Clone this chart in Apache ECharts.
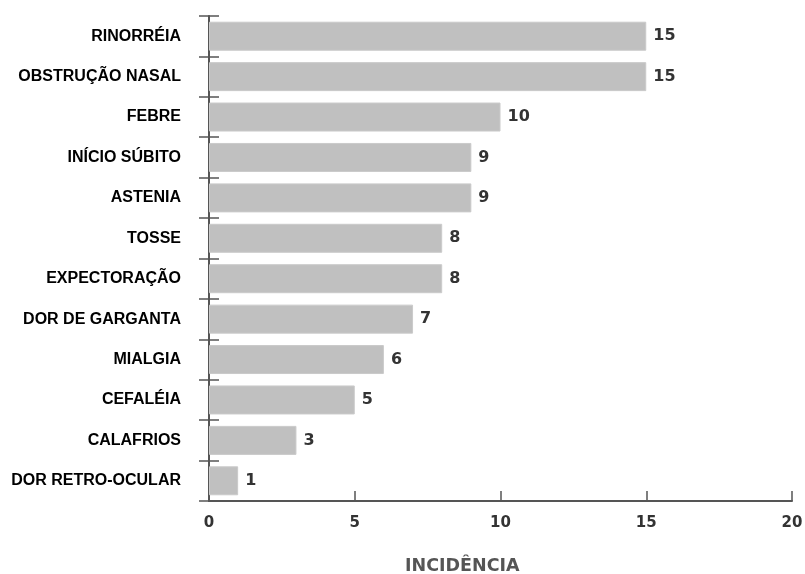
<!DOCTYPE html>
<html>
<head>
<meta charset="utf-8">
<script src="https://cdn.jsdelivr.net/npm/echarts@6/dist/echarts.min.js"></script>
<style>
  html, body { margin: 0; padding: 0; background: #fff; }
  #chart { width: 805px; height: 574px; }
</style>
</head>
<body>
<div id="chart"></div>
<script>
// Symptoms, listed bottom-to-top for the category axis
const symptoms = [
  'DOR RETRO-OCULAR', 'CALAFRIOS', 'CEFALÉIA', 'MIALGIA', 'DOR DE GARGANTA',
  'EXPECTORAÇÃO', 'TOSSE', 'ASTENIA', 'INÍCIO SÚBITO', 'FEBRE',
  'OBSTRUÇÃO NASAL', 'RINORRÉIA'
];
const incidence = [1, 3, 5, 6, 7, 8, 8, 9, 9, 10, 15, 15];
const xTicks = { min: 0, max: 20, interval: 5 };
const xAxisTitle = 'INCIDÊNCIA';

const axisColor = '#555555';
const labelFont = 'Liberation Sans, Arial, sans-serif';
const numFont = 'DejaVu Sans, Verdana, sans-serif';

const chart = echarts.init(document.getElementById('chart'), null, { renderer: 'canvas' });

chart.setOption({
  animation: false,
  backgroundColor: '#ffffff',
  title: {
    text: xAxisTitle,
    left: 405,
    top: 557,
    padding: 0,
    textStyle: { color: axisColor, fontFamily: numFont, fontWeight: 'bold', fontSize: 17.5 }
  },
  grid: { left: 209, right: 13, top: 16, height: 485, containLabel: false, outerBoundsMode: 'none' },
  xAxis: {
    type: 'value',
    min: xTicks.min,
    max: xTicks.max,
    interval: xTicks.interval,
    axisLine: { show: true, lineStyle: { color: axisColor, width: 2 } },
    axisTick: { show: true, inside: true, length: 10, lineStyle: { color: axisColor, width: 1.5 } },
    axisLabel: { color: '#333333', fontFamily: numFont, fontWeight: 'bold', fontSize: 15, margin: 15 },
    splitLine: { show: false }
  },
  yAxis: [
    {
      type: 'category',
      data: symptoms,
      boundaryGap: true,
      axisLine: { show: true, lineStyle: { color: axisColor, width: 2 } },
      axisTick: { show: true, length: 10, lineStyle: { color: axisColor, width: 1.5 } },
      axisLabel: {
        color: '#000000', fontFamily: labelFont, fontWeight: 'bold', fontSize: 16,
        margin: 28, padding: [3, 0, 0, 0]
      },
      splitLine: { show: false }
    },
    {
      // second copy of the category axis: its ticks point inward so each tick crosses the axis line
      type: 'category',
      data: symptoms,
      position: 'left',
      boundaryGap: true,
      axisLine: { show: false },
      axisTick: { show: true, inside: true, length: 10, lineStyle: { color: axisColor, width: 1.5 } },
      axisLabel: { show: false },
      splitLine: { show: false }
    }
  ],
  series: [{
    type: 'bar',
    data: incidence,
    barWidth: 29,
    itemStyle: { color: '#c0c0c0', borderColor: '#cacaca', borderWidth: 1 },
    label: {
      show: true,
      position: 'right',
      distance: 7,
      padding: [7, 0, 0, 0],
      color: '#333333',
      fontFamily: numFont,
      fontWeight: 'bold',
      fontSize: 16
    }
  }]
});
</script>
</body>
</html>
